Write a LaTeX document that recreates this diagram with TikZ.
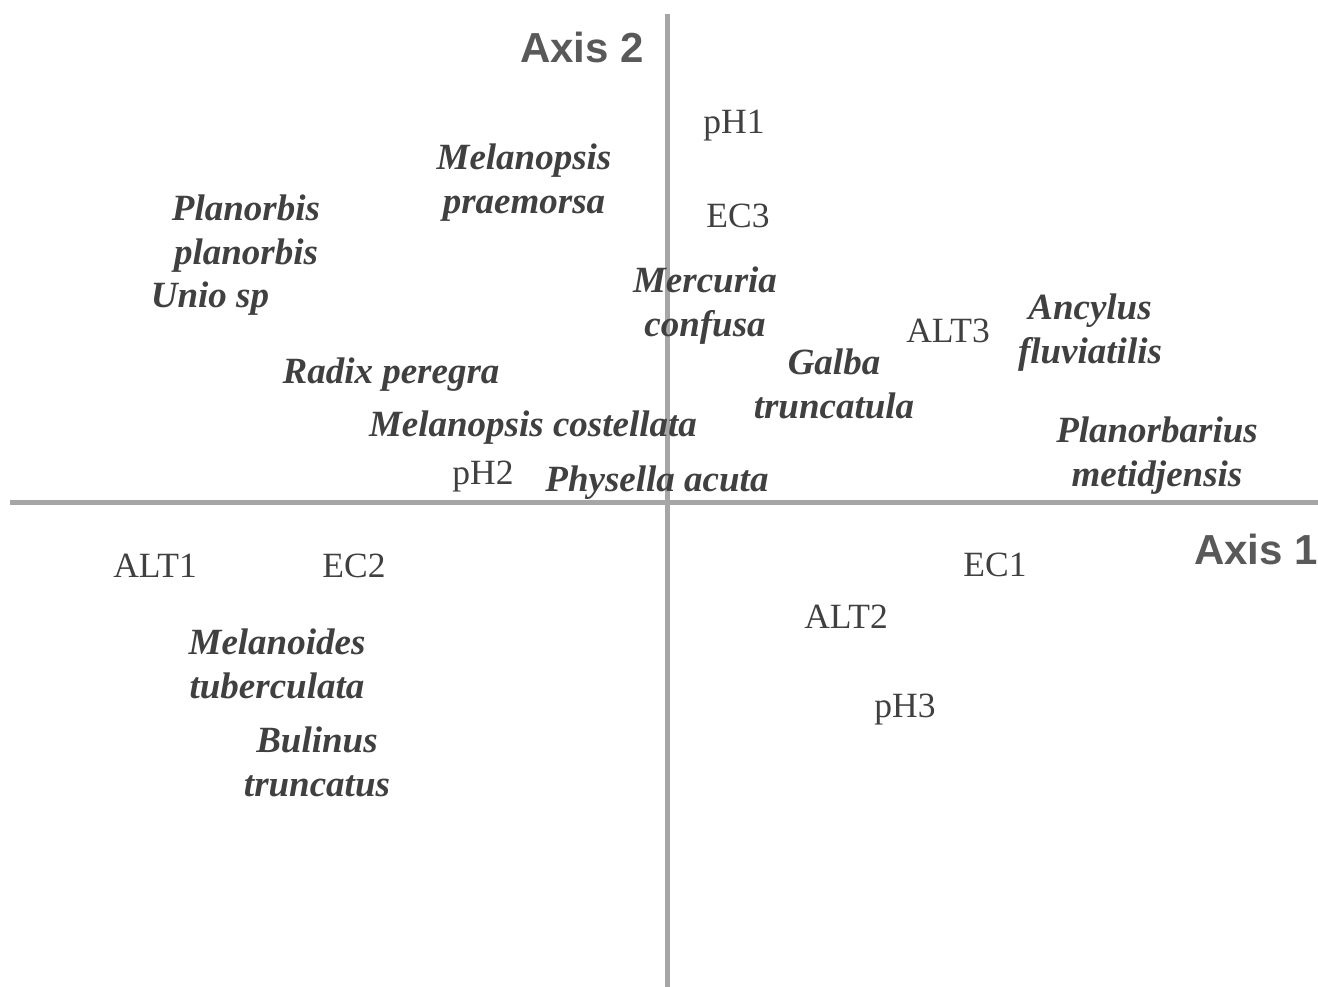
\documentclass[tikz,border=0pt]{standalone}
\usepackage{fontspec}
\setmainfont{Liberation Serif}
\newfontfamily\axisfont{Liberation Sans}
\definecolor{AxisGray}{HTML}{A6A6A6}
\definecolor{LabelGray}{HTML}{595959}
\definecolor{TextGray}{HTML}{404040}
% two-line labels are placed at their last line
\newcommand{\SpeciesNode}[3]{
\node[Species] (#1) at (#2) {#3};
}
\newcommand{\VarNode}[3]{
\node[Variable] (#1) at (#2) {#3};
}
\tikzset{every node/.style={inner sep=0pt, outer sep=0pt}}
\tikzset{Species/.style={text=TextGray,align=center,font=\fontsize{37}{44}\selectfont\bfseries\itshape,text height=25pt,text depth=8pt}}
\tikzset{Variable/.style={text=TextGray,font=\fontsize{35.5}{40}\selectfont,text height=23pt,text depth=7pt}}
\tikzset{AxisLabel/.style={text=LabelGray,font=\axisfont\fontsize{42}{46}\selectfont\bfseries}}
\tikzset{AxisLine/.style={draw=AxisGray,line width=5pt}}
\begin{document}
\begin{tikzpicture}[x=1pt,y=-1pt]
\useasboundingbox (0,0) rectangle (1318,987);

% axes
\coordinate (A1w) at (10,502);
\coordinate (A1e) at (1318,502);
\coordinate (A2n) at (667,14);
\coordinate (A2s) at (667,987);
\draw[AxisLine] (A1w) -- (A1e);
\draw[AxisLine] (A2n) -- (A2s);
\node[AxisLabel,anchor=east] (Ax2) at (644,47) {Axis 2};
\node[AxisLabel,anchor=east] (Ax1) at (1318,549) {Axis 1};

% species
\SpeciesNode{Mpra}{524,205}{Melanopsis\\praemorsa}
\SpeciesNode{Ppla}{246,256}{Planorbis\\planorbis}
\SpeciesNode{Unio}{210,299}{Unio sp}
\SpeciesNode{Rper}{391,375}{Radix peregra}
\SpeciesNode{Mcos}{533,428}{Melanopsis costellata}
\SpeciesNode{Pacu}{657,483}{Physella acuta}
\SpeciesNode{Mcon}{705,328}{Mercuria\\confusa}
\SpeciesNode{Aflu}{1090,355}{Ancylus\\fluviatilis}
\SpeciesNode{Gtru}{834,410}{Galba\\truncatula}
\SpeciesNode{Pmet}{1157,478}{Planorbarius\\metidjensis}
\SpeciesNode{Mtub}{277,690}{Melanoides\\tuberculata}
\SpeciesNode{Btru}{317,788}{Bulinus\\truncatus}

% variables
\VarNode{pH1}{734,126}{pH1}
\VarNode{EC3}{738,220}{EC3}
\VarNode{ALT3}{948,334}{ALT3}
\VarNode{pH2}{483,476}{pH2}
\VarNode{ALT1}{155,569}{ALT1}
\VarNode{EC2}{354,569}{EC2}
\VarNode{EC1}{995,568}{EC1}
\VarNode{ALT2}{846,620}{ALT2}
\VarNode{pH3}{905,709}{pH3}

\end{tikzpicture}
\end{document}
